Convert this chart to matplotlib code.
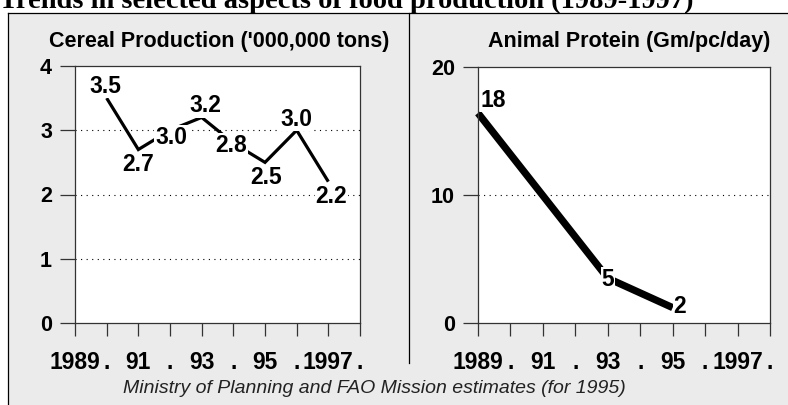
import matplotlib
matplotlib.use("Agg")
import matplotlib.pyplot as plt
from matplotlib.lines import Line2D
from matplotlib.patches import Rectangle

# ---------------- data ----------------
title = "Trends in selected aspects of food production (1989-1997)"
source = "Ministry of Planning and FAO Mission estimates (for 1995)"
xtick_labels = ['1989', '.', '91', '.', '93', '.', '95', '.', '1997', '.']

cereal_title = "Cereal Production ('000,000 tons)"
cereal_x = [1, 2, 3, 4, 5, 6, 7, 8]          # 1990 .. 1997
cereal_values = [3.5, 2.7, 3.0, 3.2, 2.8, 2.5, 3.0, 2.2]
cereal_labels = ['3.5', '2.7', '3.0', '3.2', '2.8', '2.5', '3.0', '2.2']
cereal_yticks = [0, 1, 2, 3, 4]

protein_title = "Animal Protein (Gm/pc/day)"
protein_x = [0, 4, 6]                          # 1989, 1993, 1995
protein_values = [16.4, 3.5, 1.2]
protein_labels = ['18', '5', '2']
protein_yticks = [0, 10, 20]

# label offsets (pixels, +y up) -- layout only
cereal_offsets = [(-1, 12), (0, -15), (1, -7), (4, 12), (-2, -2), (1, -15), (0, 11), (3, -15)]
protein_offsets = [(15, 13), (0, -1), (7, 1)]

W, H = 788, 405
fig = plt.figure(figsize=(W / 100, H / 100), dpi=100)
fig.patch.set_facecolor('white')

SANS = ['Liberation Sans', 'DejaVu Sans']
GREY = '#ebebeb'

def fx(px):
    return px / W

def fy(py):
    return (H - py) / H

# panel background & frame
fig.add_artist(Rectangle((fx(8), 0), fx(W) - fx(8), fy(13), transform=fig.transFigure,
                         facecolor=GREY, edgecolor='none', zorder=0))
for (x0, y0, x1, y1) in [(8, 13, W, 13), (8, 13, 8, H), (409, 13, 409, 363)]:
    fig.add_artist(Line2D([fx(x0), fx(x1)], [fy(y0), fy(y1)], transform=fig.transFigure,
                          color='black', lw=0.9, zorder=1))

# main title (clipped at top, as in the reference)
fig.text(fx(-1), fy(8), title, family=['Liberation Serif', 'DejaVu Serif'],
         fontweight='bold', fontsize=20.5, ha='left', va='baseline')

# source
fig.text(fx(374), fy(393), source, family=SANS, style='italic', fontsize=14,
         ha='center', va='baseline', color='#222222')


def make_panel(rect_px, ptitle, title_cx, xs, vals, labels, offsets, yticks, lw):
    l, t, r, b = rect_px
    ax = fig.add_axes([fx(l), fy(b), fx(r) - fx(l), fy(t) - fy(b)])
    ax.set_facecolor('white')
    ax.set_xlim(0, len(xtick_labels) - 1)
    ax.set_ylim(yticks[0], yticks[-1])
    ax.set_xticks(range(len(xtick_labels)))
    ax.set_xticklabels(xtick_labels, family=SANS, fontweight='bold', fontsize=16.5)
    ax.set_yticks(yticks)
    ax.set_yticklabels([str(v) for v in yticks], family=SANS, fontweight='bold', fontsize=15.5)
    ax.tick_params(axis='y', direction='out', length=11, width=0.9, pad=5.5, colors='#333333')
    ax.tick_params(axis='x', direction='out', length=9.5, width=0.9, pad=10.5, colors='#333333')
    for lab in ax.get_xticklabels() + ax.get_yticklabels():
        lab.set_color('black')
    for sp in ax.spines.values():
        sp.set_color('#333333')
        sp.set_linewidth(0.9)
    for yv in yticks[1:-1]:
        ax.axhline(yv, color='black', lw=0.8, ls=(0, (1, 4)), zorder=1)
    ax.plot(xs, vals, color='black', lw=lw, solid_capstyle='butt', solid_joinstyle='miter',
            zorder=2, clip_on=False)
    for x, v, s, (dx, dy) in zip(xs, vals, labels, offsets):
        ax.annotate(s, (x, v), xytext=(dx * 0.72, dy * 0.72), textcoords='offset points',
                    ha='center', va='center', family=SANS, fontweight='bold', fontsize=16.5,
                    bbox=dict(facecolor='white', edgecolor='none', pad=0.5), zorder=3)
    fig.text(fx(title_cx), fy(47), ptitle, family=SANS, fontweight='bold', fontsize=15.5,
             ha='center', va='baseline')
    return ax


make_panel((75, 66, 360, 323), cereal_title, 219, cereal_x, cereal_values, cereal_labels,
           cereal_offsets, cereal_yticks, 2.3)
make_panel((478, 67, 770, 323), protein_title, 629, protein_x, protein_values, protein_labels,
           protein_offsets, protein_yticks, 5.2)

fig.savefig('out.png', dpi=100, facecolor='white')
